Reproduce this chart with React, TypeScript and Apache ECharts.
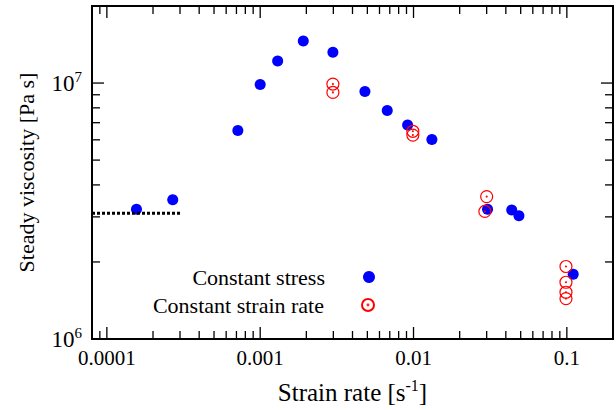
import React, { useEffect, useRef } from "react";
import * as echarts from "echarts";

// ---- Data ----
const STRESS_RATE = [1.56e-4, 2.69e-4, 7.15e-4, 1.0e-3, 1.3e-3, 1.91e-3, 2.98e-3, 4.82e-3, 6.74e-3, 9.15e-3, 1.318e-2, 3.04e-2, 4.37e-2, 4.87e-2, 0.11];
const STRESS_VISC = [3.21e6, 3.5e6, 6.53e6, 9.88e6, 1.22e7, 1.46e7, 1.32e7, 9.27e6, 7.81e6, 6.85e6, 6.02e6, 3.21e6, 3.19e6, 3.03e6, 1.79e6];

const STRAIN_RATE = [2.98e-3, 2.98e-3, 9.9e-3, 9.9e-3, 3.0e-2, 2.92e-2, 0.0987, 0.0987, 0.0987, 0.0987];
const STRAIN_VISC = [9.91e6, 9.19e6, 6.48e6, 6.26e6, 3.6e6, 3.15e6, 1.92e6, 1.666e6, 1.523e6, 1.438e6];

const REF_LINE_RATE = [8e-5, 3e-4];
const REF_LINE_VISC = [3.1e6, 3.1e6];

const X_MIN = 8e-5;
const X_MAX = 0.2;
const Y_MIN = 1e6;
const Y_MAX = 2e7;

const X_MAJOR = [1e-4, 1e-3, 1e-2, 1e-1];
const X_TICK_LABELS = ["0.0001", "0.001", "0.01", "0.1"];
const X_DECADES = [1e-5, 1e-4, 1e-3, 1e-2, 1e-1];
const Y_MAJOR = [1e6, 1e7];
const Y_TICK_EXP = ["6", "7"];
const Y_DECADES = [1e6, 1e7];
const MULTIPLIERS = [2, 3, 4, 5, 6, 7, 8, 9];

const SERIES_NAMES = ["Constant stress", "Constant strain rate"];

const FONT = "'Liberation Serif', 'DejaVu Serif', serif";

const RING_DOT =
  "path://M0,-10A10,10 0 1,1 0,10A10,10 0 1,1 0,-10Z M0,-0.8A0.8,0.8 0 1,1 0,0.8A0.8,0.8 0 1,1 0,-0.8Z";

function inRange(v: number, lo: number, hi: number) {
  return v > lo * 1.0001 && v < hi * 0.9999;
}

export default function App() {
  const ref = useRef<HTMLDivElement>(null);

  useEffect(() => {
    if (!ref.current) return;
    const chart = echarts.init(ref.current, undefined, { renderer: "svg" });

    // tick lists (major flag in 3rd dim)
    const xTicks: number[][] = [];
    X_MAJOR.forEach((v) => xTicks.push([v, Y_MIN, 1]));
    X_DECADES.forEach((d) =>
      MULTIPLIERS.forEach((m) => {
        const v = d * m;
        if (inRange(v, X_MIN, X_MAX)) xTicks.push([v, Y_MIN, 0]);
      })
    );
    const yTicks: number[][] = [];
    Y_MAJOR.forEach((v) => yTicks.push([X_MIN, v, 1]));
    Y_DECADES.forEach((d) =>
      MULTIPLIERS.forEach((m) => {
        const v = d * m;
        if (inRange(v, Y_MIN, Y_MAX)) yTicks.push([X_MIN, v, 0]);
      })
    );

    const tickStyle = { stroke: "#000", lineWidth: 1.3 };
    const legendBase = {
      right: 241,
      padding: 0,
      align: "right",
      itemWidth: 78,
      itemHeight: 12,
      textStyle: { fontFamily: FONT, fontSize: 22, color: "#000" },
      selectedMode: false,
    };

    const option: any = {
      animation: false,
      backgroundColor: "#fff",
      grid: {
        left: 92,
        top: 6,
        right: 3,
        bottom: 71,
        show: true,
        borderColor: "#000",
        borderWidth: 2,
        backgroundColor: "transparent",
      },
      legend: [
        { ...legendBase, data: [SERIES_NAMES[0]], top: 266 },
        { ...legendBase, data: [SERIES_NAMES[1]], top: 294 },
      ],
      xAxis: {
        type: "log",
        logBase: 10,
        min: X_MIN,
        max: X_MAX,
        axisLine: { show: false },
        axisTick: { show: false },
        splitLine: { show: false },
        axisLabel: {
          margin: 8,
          color: "#000",
          fontFamily: FONT,
          fontSize: 21,
          showMinLabel: false,
          showMaxLabel: false,
          formatter: (v: number) => {
            const i = X_MAJOR.findIndex((t) => Math.abs(Math.log10(v) - Math.log10(t)) < 1e-6);
            return i >= 0 ? X_TICK_LABELS[i] : "";
          },
        },
        name: "{a|Strain rate [s}{s|-1}{a|]}",
        nameLocation: "middle",
        nameGap: 38,
        nameTextStyle: {
          rich: {
            a: { fontFamily: FONT, fontSize: 25, color: "#000", lineHeight: 30 },
            s: { fontFamily: FONT, fontSize: 16, color: "#000", verticalAlign: "top", lineHeight: 16 },
          },
        },
      },
      yAxis: {
        type: "log",
        logBase: 10,
        min: Y_MIN,
        max: Y_MAX,
        axisLine: { show: false },
        axisTick: { show: false },
        splitLine: { show: false },
        axisLabel: {
          margin: 10,
          showMaxLabel: false,
          formatter: (v: number) => {
            const i = Y_MAJOR.findIndex((t) => Math.abs(Math.log10(v) - Math.log10(t)) < 1e-6);
            return i >= 0 ? `{b|10}{s|${Y_TICK_EXP[i]}}` : "";
          },
          rich: {
            b: { fontFamily: FONT, fontSize: 23, color: "#000", lineHeight: 28 },
            s: { fontFamily: FONT, fontSize: 15, color: "#000", verticalAlign: "top", lineHeight: 15 },
          },
        },
        name: "Steady viscosity [Pa s]",
        nameLocation: "middle",
        nameGap: 55,
        nameTextStyle: { fontFamily: FONT, fontSize: 22, color: "#000" },
      },
      series: [
        {
          type: "custom",
          silent: true,
          renderItem: (params: any, api: any) => {
            const cs = params.coordSys;
            const x = api.coord([api.value(0), api.value(1)])[0];
            const len = api.value(2) ? 12 : 8;
            const b = cs.y + cs.height;
            return {
              type: "group",
              children: [
                { type: "line", shape: { x1: x, y1: b, x2: x, y2: b - len }, style: tickStyle },
                { type: "line", shape: { x1: x, y1: cs.y, x2: x, y2: cs.y + len }, style: tickStyle },
              ],
            };
          },
          data: xTicks,
          z: 1,
        },
        {
          type: "custom",
          silent: true,
          renderItem: (params: any, api: any) => {
            const cs = params.coordSys;
            const y = api.coord([api.value(0), api.value(1)])[1];
            const len = api.value(2) ? 12 : 8;
            const r = cs.x + cs.width;
            return {
              type: "group",
              children: [
                { type: "line", shape: { x1: cs.x, y1: y, x2: cs.x + len, y2: y }, style: tickStyle },
                { type: "line", shape: { x1: r, y1: y, x2: r - len, y2: y }, style: tickStyle },
              ],
            };
          },
          data: yTicks,
          z: 1,
        },
        {
          type: "line",
          name: "ref",
          data: REF_LINE_RATE.map((x, i) => [x, REF_LINE_VISC[i]]),
          symbol: "none",
          lineStyle: { color: "#000", width: 3, type: [3, 2] },
          z: 3,
        },
        {
          type: "scatter",
          name: SERIES_NAMES[0],
          data: STRESS_RATE.map((x, i) => [x, STRESS_VISC[i]]),
          symbol: "circle",
          symbolSize: 11,
          itemStyle: { color: "#0000ff", opacity: 1 },
          z: 2,
        },
        {
          type: "scatter",
          name: SERIES_NAMES[1],
          data: STRAIN_RATE.map((x, i) => [x, STRAIN_VISC[i]]),
          symbol: RING_DOT,
          symbolSize: 12,
          itemStyle: { color: "transparent", borderColor: "#ff0000", borderWidth: 1.2, opacity: 1 },
          z: 4,
        },
      ],
    };

    chart.setOption(option);
    return () => chart.dispose();
  }, []);

  return (
    <div
      ref={ref}
      style={{ position: "absolute", left: 0, top: 0, width: 616, height: 410 }}
    />
  );
}
